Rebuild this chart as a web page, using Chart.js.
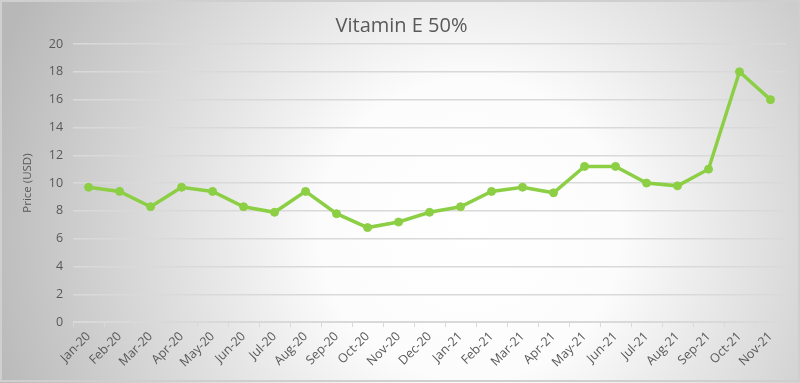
<!DOCTYPE html>
<html>
<head>
<meta charset="utf-8">
<script src="https://cdn.jsdelivr.net/npm/chart.js@4/dist/chart.umd.min.js"></script>
<style>
  html, body { margin: 0; padding: 0; background: #fff; }
  #wrap { width: 800px; height: 383px; position: relative; }
</style>
</head>
<body>
<div id="wrap"><canvas id="chart" width="800" height="383"></canvas></div>
<script>
const months = ['Jan-20', 'Feb-20', 'Mar-20', 'Apr-20', 'May-20', 'Jun-20', 'Jul-20', 'Aug-20',
  'Sep-20', 'Oct-20', 'Nov-20', 'Dec-20', 'Jan-21', 'Feb-21', 'Mar-21', 'Apr-21', 'May-21',
  'Jun-21', 'Jul-21', 'Aug-21', 'Sep-21', 'Oct-21', 'Nov-21'];
const prices = [9.7, 9.4, 8.3, 9.7, 9.4, 8.3, 7.9, 9.4, 7.8, 6.8, 7.2, 7.9, 8.3, 9.4, 9.7, 9.3,
  11.2, 11.2, 10.0, 9.8, 11.0, 18.0, 16.0];
const yTicks = [0, 2, 4, 6, 8, 10, 12, 14, 16, 18, 20];

const textColor = '#595959';
const gridColor = '#d9d9d9';
const lineColor = '#8ccf45';
const font = "'Open Sans', sans-serif";

// radial grey-to-white backdrop like the Excel chart style
const backdrop = {
  id: 'backdrop',
  beforeDraw(chart) {
    const { ctx, width, height } = chart;
    ctx.save();
    const g = ctx.createRadialGradient(470, 230, 0, 470, 230, 500);
    g.addColorStop(0, '#ffffff');
    g.addColorStop(0.3, '#fcfcfc');
    g.addColorStop(1, '#b8b8b8');
    ctx.fillStyle = g;
    ctx.fillRect(0, 0, width, height);
    ctx.strokeStyle = '#cfcfcf';
    ctx.lineWidth = 2;
    ctx.strokeRect(1, 1, width - 2, height - 3);
    ctx.restore();
  }
};

new Chart(document.getElementById('chart').getContext('2d'), {
  type: 'line',
  data: {
    labels: months,
    datasets: [{
      label: 'Vitamin E 50%',
      data: prices,
      borderColor: lineColor,
      backgroundColor: lineColor,
      borderWidth: 3.5,
      pointRadius: 4,
      pointBorderWidth: 1,
      pointBorderColor: lineColor,
      pointBackgroundColor: lineColor,
      tension: 0,
      fill: false
    }]
  },
  options: {
    responsive: false,
    animation: false,
    layout: { padding: { left: 17, right: 14, top: 4, bottom: 11 } },
    plugins: {
      legend: { display: false },
      tooltip: { enabled: false },
      title: {
        display: true,
        text: 'Vitamin E 50%',
        color: textColor,
        font: { size: 20, family: font, weight: 'normal' },
        padding: { top: 10, bottom: 6 }
      }
    },
    scales: {
      x: {
        offset: true,
        grid: {
          display: true,
          offset: true,
          drawOnChartArea: false,
          drawTicks: true,
          tickLength: 5,
          color: gridColor
        },
        border: { display: true, color: gridColor, width: 1 },
        ticks: {
          color: textColor,
          font: { size: 12.5, family: font },
          maxRotation: 45,
          minRotation: 45,
          autoSkip: false,
          padding: 2
        }
      },
      y: {
        min: 0,
        max: 20,
        afterBuildTicks: (axis) => { axis.ticks = yTicks.map(v => ({ value: v })); },
        grid: { color: gridColor, lineWidth: 1.5, drawTicks: false },
        border: { display: false },
        ticks: {
          color: textColor,
          font: { size: 12.5, family: font },
          padding: 10
        },
        title: {
          display: true,
          text: 'Price (USD)',
          color: textColor,
          font: { size: 11.5, family: font },
          padding: { bottom: 4 }
        }
      }
    }
  },
  plugins: [backdrop]
});
</script>
</body>
</html>
